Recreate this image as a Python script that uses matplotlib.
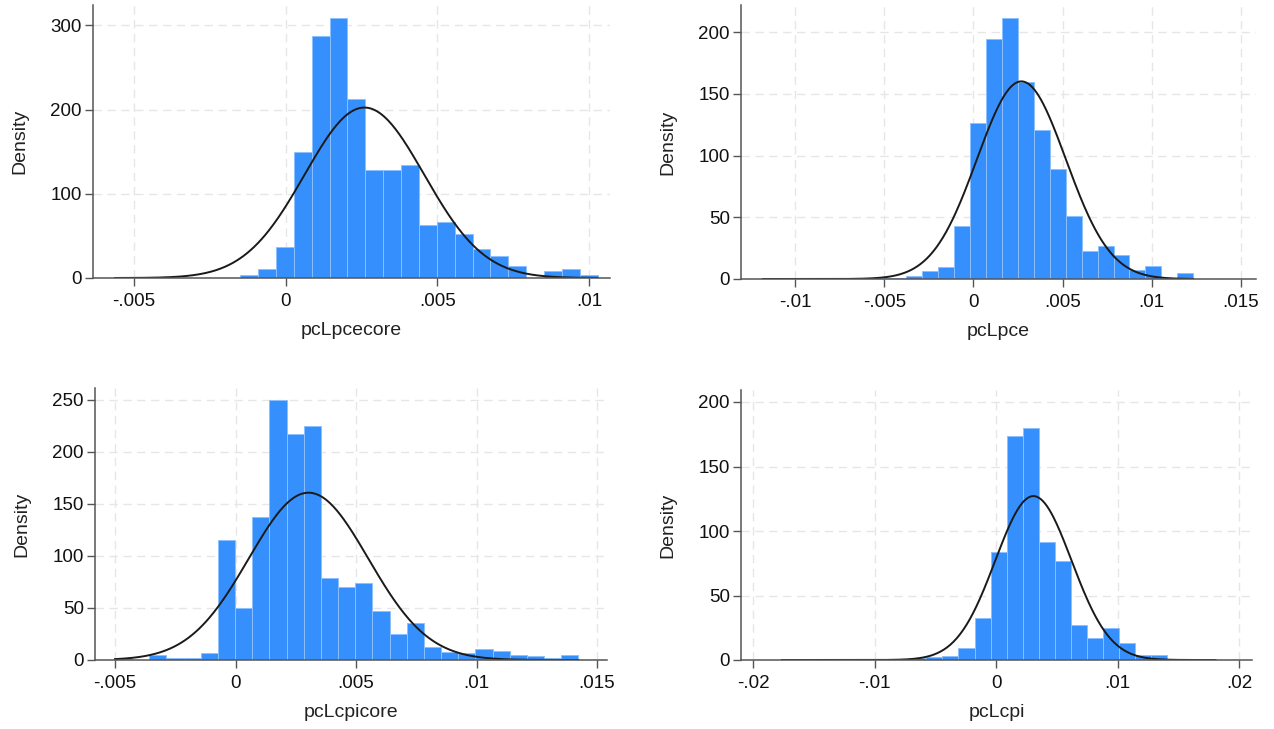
import matplotlib
matplotlib.use('Agg')
import matplotlib.pyplot as plt
import numpy as np

plt.rcParams['font.family'] = ['Liberation Sans', 'DejaVu Sans']

# ---- data (27 bins per panel, density scale) ----
names = ['pcLpcecore', 'pcLpce', 'pcLcpicore', 'pcLcpi']

bin_lo = [-0.005614, -0.0118, -0.0050, -0.01763]
bin_hi = [0.010287, 0.01232, 0.01423, 0.01806]

dens_pcecore = [1.6, 0, 0, 0, 0, 0, 0, 3.2, 10.7, 36.6, 149.8, 287, 309, 213,
                128, 128, 134, 63, 67, 52, 34.6, 25.8, 14.3, 0, 8, 10.7, 3.6]
dens_pce = [1.1, 0, 0, 0, 0, 0.5, 0.8, 0.6, 0.8, 2.2, 6.8, 9.8, 43, 126.6,
            194.3, 211.4, 159.8, 120.4, 89, 51, 22.8, 26.9, 19.8, 7, 10.9, 0, 4.9]
dens_cpicore = [1, 0, 5.1, 1.6, 1.6, 6.7, 115.7, 50, 137.8, 250, 217, 224.6,
                79, 70.4, 74, 47, 25.4, 35.7, 12.2, 7.4, 6.4, 10.6, 9, 5.1, 3.5, 1.9, 5.1]
dens_cpi = [1, 0, 0, 0, 0, 0, 0.5, 0.8, 1.5, 2, 3, 9.2, 32.8, 83.8, 173.8,
            179.7, 91.3, 76.4, 26.9, 17.2, 24.9, 13.1, 3.6, 3.6, 0.8, 0, 0.8]
densities = [dens_pcecore, dens_pce, dens_cpicore, dens_cpi]

# normal overlay (mean, sd)
norm_mu = [0.0026, 0.00269, 0.00303, 0.00308]
norm_sd = [0.00197, 0.00249, 0.00248, 0.00314]

xticks = [[-0.005, 0, 0.005, 0.01],
          [-0.01, -0.005, 0, 0.005, 0.01, 0.015],
          [-0.005, 0, 0.005, 0.01, 0.015],
          [-0.02, -0.01, 0, 0.01, 0.02]]
xticklabels = [['-.005', '0', '.005', '.01'],
               ['-.01', '-.005', '0', '.005', '.01', '.015'],
               ['-.005', '0', '.005', '.01', '.015'],
               ['-.02', '-.01', '0', '.01', '.02']]
yticks = [[0, 100, 200, 300],
          [0, 50, 100, 150, 200],
          [0, 50, 100, 150, 200, 250],
          [0, 50, 100, 150, 200]]

# ---- layout in pixels: left, right, top, bottom(y=0), x of zero, px per unit x, px per unit y
W, H = 1274, 729
layout = [
    (93, 610, 5, 278, 285.5, 151.75 / 0.005, 84.17 / 100),
    (741, 1256, 5, 279, 973.4, 89.2 / 0.005, 123.35 / 100),
    (95, 607, 388, 660, 235.5, 120.5 / 0.005, 52.0 / 50),
    (741, 1252, 390, 660, 996.0, 121.5 / 0.01, 129.0 / 100),
]

bar_col = '#3590fe'
axis_col = '#555555'

fig = plt.figure(figsize=(W / 100, H / 100), dpi=100)

for i in range(4):
    left, right, top, bot, x0, sx, sy = layout[i]
    ax = fig.add_axes([left / W, 1 - bot / H, (right - left) / W, (bot - top) / H])

    edges = np.linspace(bin_lo[i], bin_hi[i], len(densities[i]) + 1)
    ax.bar(edges[:-1], densities[i], width=np.diff(edges), align='edge',
           color=bar_col, edgecolor='#8cc0ff', linewidth=0.7, zorder=2)

    xs = np.linspace(bin_lo[i], bin_hi[i], 400)
    pdf = np.exp(-0.5 * ((xs - norm_mu[i]) / norm_sd[i]) ** 2) / (norm_sd[i] * np.sqrt(2 * np.pi))
    ax.plot(xs, pdf, color='#1a1a1a', lw=1.4, zorder=3)

    ax.set_xlim((left - x0) / sx, (right - x0) / sx)
    ax.set_ylim(0, (bot - top) / sy)

    ax.set_xticks(xticks[i])
    ax.set_xticklabels(xticklabels[i])
    ax.set_yticks(yticks[i])

    ax.grid(True, color='#e6e6e6', linestyle=(0, (6, 4)), lw=1.0)
    ax.set_axisbelow(True)

    for s in ['top', 'right']:
        ax.spines[s].set_visible(False)
    for s in ['left', 'bottom']:
        ax.spines[s].set_color(axis_col)
        ax.spines[s].set_linewidth(1.1)
        ax.spines[s].set_zorder(4)

    ax.tick_params(axis='both', direction='out', length=5.5, width=1.0,
                   color=axis_col, labelsize=13.5, labelcolor='#111111')
    ax.tick_params(axis='x', pad=5)
    ax.tick_params(axis='y', pad=2.5)

    ax.set_xlabel(names[i], fontsize=14, color='#222222', labelpad=9)
    ax.set_ylabel('Density', fontsize=14, color='#222222', labelpad=16)

fig.savefig('out.png', dpi=100, facecolor='white')
